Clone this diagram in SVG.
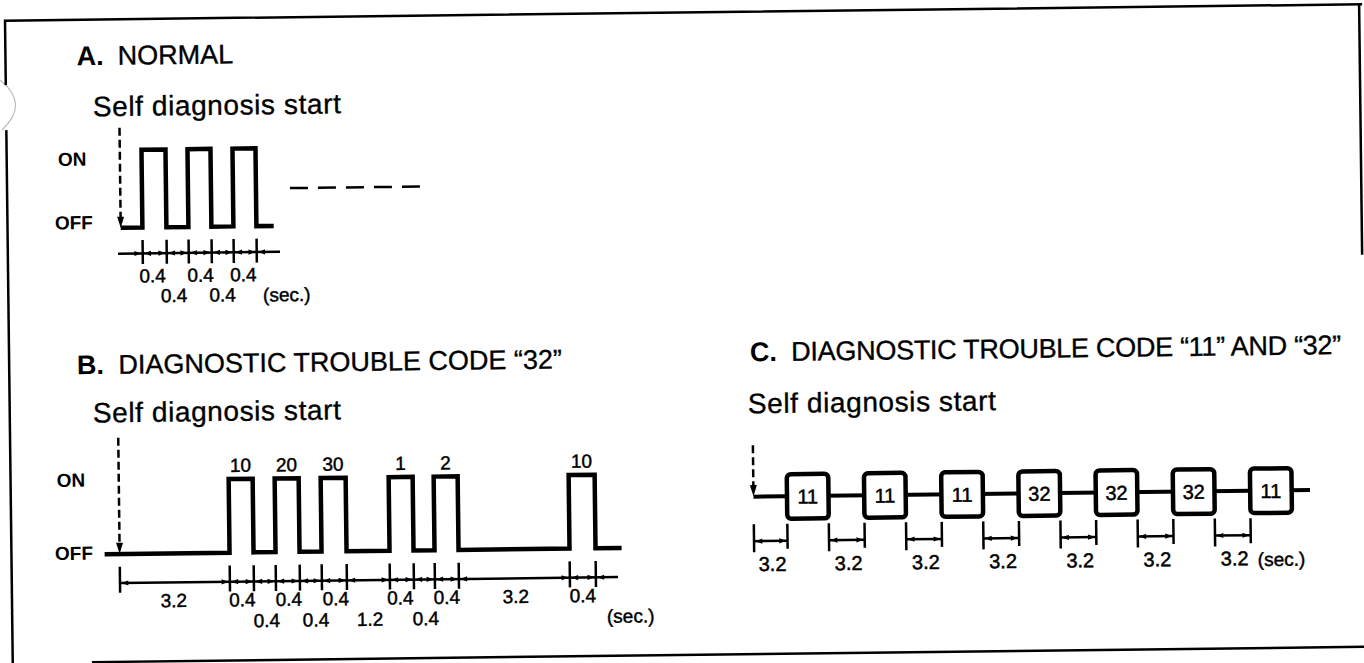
<svg xmlns="http://www.w3.org/2000/svg" width="1364" height="663" viewBox="0 0 1364 663">
<style>
text{font-family:"Liberation Sans",Arial,Helvetica,sans-serif;fill:#000;stroke:#000;stroke-width:0.35}
.hd{font-size:27px}
.b{font-weight:bold;stroke-width:0}
.sd{font-size:28px}
.lv{font-size:19px;font-weight:bold;stroke-width:0}
.n{font-size:19px;text-anchor:middle;stroke-width:0.45}
.s{font-size:19px;stroke-width:0.45}
.bx{font-size:20px;text-anchor:middle;stroke-width:0.5}
.wave{fill:none;stroke:#000;stroke-width:4.5;stroke-linejoin:miter}
.dim{stroke:#000;stroke-width:2.5;fill:none}
.tick{stroke:#000;stroke-width:2.5}
.start{stroke:#000;stroke-width:2.5;stroke-dasharray:8 4;fill:none}
.cont{stroke:#000;stroke-width:2.5;stroke-dasharray:18 10}
.frame{stroke:#000;stroke-width:2.5;fill:none}
.box{fill:#fff;stroke:#000;stroke-width:4.5}
.ah{fill:#000}
</style>
<defs>
<path id="aR" class="ah" d="M-7,-2.6 L0,0 L-7,2.6 Z"/>
<path id="aL" class="ah" d="M7,-2.6 L0,0 L7,2.6 Z"/>
<path id="aD" class="ah" d="M-3.5,-11 L0,0 L3.5,-11 Z"/>
</defs>
<rect width="1364" height="663" fill="#fff"/>
<path d="M0,80 Q30,104 2,130" fill="none" stroke="#bbb" stroke-width="1.2"/>
<g transform="rotate(-0.69 682 331)">
<g id="frame">
<path class="frame" d="M8.8,77 V12.5 H1366"/>
<path class="frame" d="M1363,12.5 V263"/>
<path class="frame" d="M8.8,122 V675"/>
<path class="frame" d="M88,655 H1370"/>
</g>

<g id="sectionA">
<text class="hd b" x="80" y="58">A.</text>
<text class="hd" x="121" y="58">NORMAL</text>
<text class="sd" x="95.6" y="109.2" textLength="248" lengthAdjust="spacing">Self diagnosis start</text>
<text class="lv" x="60" y="158.5">ON</text>
<text class="lv" x="56.2" y="222">OFF</text>
<g id="waveA">
<path class="start" d="M122,121 V212"/>
<use href="#aD" x="122" y="221"/>
<path class="wave" d="M122,221 H143.7 V143.2 H167.7 V221 H189.7 V143.2 H212.7 V221 H234.7 V143.2 H257.7 V221 H275"/>
<path class="cont" d="M291.7,183.4 H421.7"/>
</g>
<g id="dimA">
<path class="dim" d="M119,246.9 H281"/>
<path class="tick" d="M143.7,233.5 V257.5 M167.7,233.5 V257.5 M189.7,233.5 V257.5 M212.7,233.5 V257.5 M234.7,233.5 V257.5 M257.7,233.5 V257.5"/>
<use href="#aR" x="142.4" y="246.9"/><use href="#aL" x="145" y="246.9"/>
<use href="#aR" x="166.4" y="246.9"/><use href="#aL" x="169" y="246.9"/>
<use href="#aR" x="188.4" y="246.9"/><use href="#aL" x="191" y="246.9"/>
<use href="#aR" x="211.4" y="246.9"/><use href="#aL" x="214" y="246.9"/>
<use href="#aR" x="233.4" y="246.9"/><use href="#aL" x="236" y="246.9"/>
<use href="#aR" x="256.4" y="246.9"/><use href="#aL" x="259" y="246.9"/>
<text class="n" x="153.3" y="275.9">0.4</text>
<text class="n" x="201.3" y="275.9">0.4</text>
<text class="n" x="244" y="275.9">0.4</text>
<text class="n" x="174.5" y="295.9">0.4</text>
<text class="n" x="223" y="295.9">0.4</text>
<text class="s" x="263.5" y="296.5">(sec.)</text>
</g>
</g>

<g id="sectionB">
<text class="hd b" x="76.5" y="367">B.</text>
<text class="hd" x="118" y="367">DIAGNOSTIC TROUBLE CODE “32”</text>
<text class="sd" x="91.9" y="415.3" textLength="248" lengthAdjust="spacing">Self diagnosis start</text>
<text class="lv" x="55" y="479.5">ON</text>
<text class="lv" x="52.3" y="552.5">OFF</text>
<g id="waveB">
<path class="start" d="M117,431 V537"/>
<use href="#aD" x="117" y="547"/>
<path class="wave" d="M102,547.2 H226.9 V473.6 H250.9 V547.2 H272.9 V473.6 H296.9 V547.2 H318.9 V473.6 H343.9 V547.2 H386.9 V473.6 H410.9 V547.2 H431.9 V473.6 H455.9 V547.2 H566.9 V473.6 H592.9 V547.2 H619"/>
<text class="n" x="238.9" y="466.5">10</text>
<text class="n" x="284.9" y="466.5">20</text>
<text class="n" x="331.4" y="466.5">30</text>
<text class="n" x="398.9" y="466.5">1</text>
<text class="n" x="443.9" y="466.5">2</text>
<text class="n" x="579.9" y="466.5">10</text>
</g>
<g id="dimB">
<path class="dim" d="M117,576.3 H615"/>
<path class="tick" d="M117,560 V586 M226.9,560 V586 M250.9,560 V586 M272.9,560 V586 M296.9,560 V586 M318.9,560 V586 M343.9,560 V586 M386.9,560 V586 M410.9,560 V586 M431.9,560 V586 M455.9,560 V586 M566.9,560 V586 M592.9,560 V586"/>
<use href="#aL" x="118.3" y="576.3"/>
<use href="#aR" x="225.6" y="576.3"/><use href="#aL" x="228.2" y="576.3"/>
<use href="#aR" x="249.6" y="576.3"/><use href="#aL" x="252.2" y="576.3"/>
<use href="#aR" x="271.6" y="576.3"/><use href="#aL" x="274.2" y="576.3"/>
<use href="#aR" x="295.6" y="576.3"/><use href="#aL" x="298.2" y="576.3"/>
<use href="#aR" x="317.6" y="576.3"/><use href="#aL" x="320.2" y="576.3"/>
<use href="#aR" x="342.6" y="576.3"/><use href="#aL" x="345.2" y="576.3"/>
<use href="#aR" x="385.6" y="576.3"/><use href="#aL" x="388.2" y="576.3"/>
<use href="#aR" x="409.6" y="576.3"/><use href="#aL" x="412.2" y="576.3"/>
<use href="#aR" x="430.6" y="576.3"/><use href="#aL" x="433.2" y="576.3"/>
<use href="#aR" x="454.6" y="576.3"/><use href="#aL" x="457.2" y="576.3"/>
<use href="#aR" x="565.6" y="576.3"/><use href="#aL" x="568.2" y="576.3"/>
<use href="#aR" x="591.6" y="576.3"/><use href="#aL" x="594.2" y="576.3"/>
<text class="n" x="170.7" y="601">3.2</text>
<text class="n" x="239.2" y="601">0.4</text>
<text class="n" x="285.7" y="601">0.4</text>
<text class="n" x="332.7" y="601">0.4</text>
<text class="n" x="397.2" y="601">0.4</text>
<text class="n" x="443.7" y="601">0.4</text>
<text class="n" x="512.7" y="601">3.2</text>
<text class="n" x="579.7" y="601">0.4</text>
<text class="n" x="263.4" y="622">0.4</text>
<text class="n" x="312.5" y="622">0.4</text>
<text class="n" x="366.7" y="622">1.2</text>
<text class="n" x="422.4" y="622">0.4</text>
<text class="s" x="603.5" y="622">(sec.)</text>
</g>
</g>

<g id="sectionC">
<text class="hd b" x="749.7" y="362">C.</text>
<text class="hd" x="791" y="362" textLength="550" lengthAdjust="spacing">DIAGNOSTIC TROUBLE CODE “11” AND “32”</text>
<text class="sd" x="747" y="414" textLength="248" lengthAdjust="spacing">Self diagnosis start</text>
<g id="connectorsC">
<path class="start" d="M751.5,446 V487"/>
<use href="#aD" x="751.5" y="497"/>
<path d="M751.5,497.5 H1308" stroke="#000" stroke-width="4" fill="none"/>
</g>
<g id="c1"><rect class="box" x="785" y="475.5" width="41.5" height="44.5" rx="4"/><text class="bx" x="805.75" y="505">11</text></g>
<g id="c2"><rect class="box" x="862.2" y="475.5" width="41.5" height="44.5" rx="4"/><text class="bx" x="882.95" y="505">11</text></g>
<g id="c3"><rect class="box" x="939.4" y="475.5" width="41.5" height="44.5" rx="4"/><text class="bx" x="960.15" y="505">11</text></g>
<g id="c4"><rect class="box" x="1016.6" y="475.5" width="41.5" height="44.5" rx="4"/><text class="bx" x="1037.35" y="505">32</text></g>
<g id="c5"><rect class="box" x="1093.8" y="475.5" width="41.5" height="44.5" rx="4"/><text class="bx" x="1114.55" y="505">32</text></g>
<g id="c6"><rect class="box" x="1171" y="475.5" width="41.5" height="44.5" rx="4"/><text class="bx" x="1191.75" y="505">32</text></g>
<g id="c7"><rect class="box" x="1248.2" y="475.5" width="41.5" height="44.5" rx="4"/><text class="bx" x="1268.95" y="505">11</text></g>
<g id="dimC">
<path class="dim" d="M751.5,542 H785 M826.5,542 H862.2 M903.7,542 H939.4 M980.9,542 H1016.6 M1058.1,542 H1093.8 M1135.3,542 H1171 M1212.5,542 H1248.2"/>
<path class="tick" d="M751.5,525 V553 M785,525 V550 M826.5,525 V553 M862.2,525 V550 M903.7,525 V553 M939.4,525 V550 M980.9,525 V553 M1016.6,525 V550 M1058.1,525 V553 M1093.8,525 V550 M1135.3,525 V553 M1171,525 V550 M1212.5,525 V553 M1248.2,525 V550"/>
<use href="#aL" x="752.8" y="542"/><use href="#aR" x="783.7" y="542"/>
<use href="#aL" x="827.8" y="542"/><use href="#aR" x="860.9" y="542"/>
<use href="#aL" x="905" y="542"/><use href="#aR" x="938.1" y="542"/>
<use href="#aL" x="982.2" y="542"/><use href="#aR" x="1015.3" y="542"/>
<use href="#aL" x="1059.4" y="542"/><use href="#aR" x="1092.5" y="542"/>
<use href="#aL" x="1136.6" y="542"/><use href="#aR" x="1169.7" y="542"/>
<use href="#aL" x="1213.8" y="542"/><use href="#aR" x="1246.9" y="542"/>
<text class="bx" x="769.75" y="572">3.2</text>
<text class="bx" x="845.85" y="572">3.2</text>
<text class="bx" x="923.05" y="572">3.2</text>
<text class="bx" x="1000.25" y="572">3.2</text>
<text class="bx" x="1077.45" y="572">3.2</text>
<text class="bx" x="1154.65" y="572">3.2</text>
<text class="bx" x="1231.85" y="572">3.2</text>
<text class="s" x="1255" y="573">(sec.)</text>
</g>
</g>
</g>
</svg>
